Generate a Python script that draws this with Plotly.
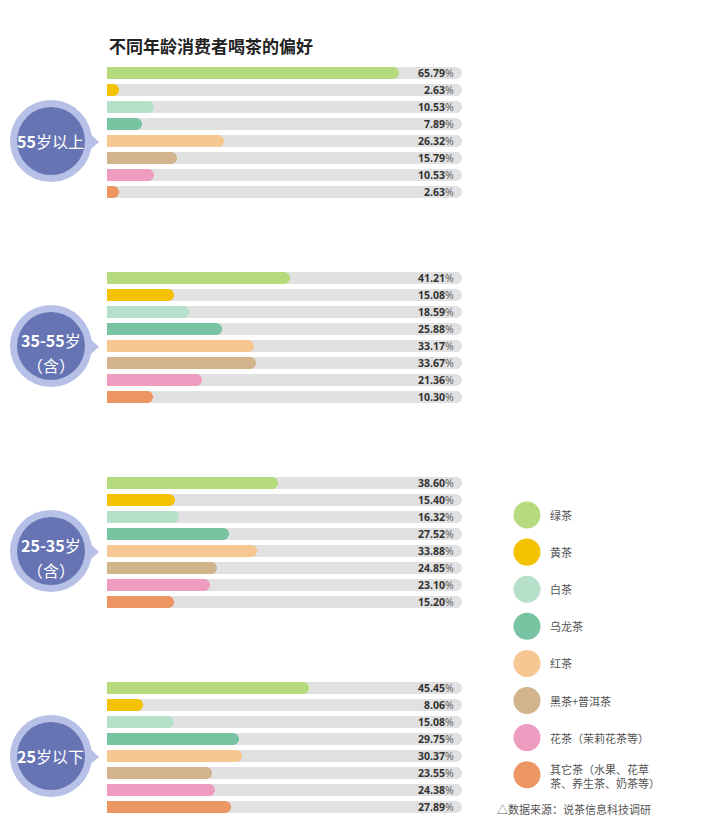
import plotly.graph_objects as go

# ---------------- data ----------------
tea_types = ["绿茶", "黄茶", "白茶", "乌龙茶", "红茶", "黑茶+普洱茶",
             "花茶（茉莉花茶等）", "其它茶（水果、花草<br>茶、养生茶、奶茶等）"]
age_groups = ["55岁以上", "35-55岁（含）", "25-35岁（含）", "25岁以下"]
age_label_lines = [["<b>55</b>岁以上"], ["<b>35-55</b>岁", "（含）"],
                   ["<b>25-35</b>岁", "（含）"], ["<b>25</b>岁以下"]]
values_55_plus = [65.79, 2.63, 10.53, 7.89, 26.32, 15.79, 10.53, 2.63]
values_35_55 = [41.21, 15.08, 18.59, 25.88, 33.17, 33.67, 21.36, 10.30]
values_25_35 = [38.60, 15.40, 16.32, 27.52, 33.88, 24.85, 23.10, 15.20]
values_under_25 = [45.45, 8.06, 15.08, 29.75, 30.37, 23.55, 24.38, 27.89]
group_values = [values_55_plus, values_35_55, values_25_35, values_under_25]

colors = ["#B6DB7F", "#F5C202", "#B6E0CA", "#78C3A2", "#F6C793",
          "#D1B38C", "#EE9CBF", "#EC9763"]
TRACK_MAX = 80
title = "不同年龄消费者喝茶的偏好"
source = "△数据来源：说茶信息科技调研"

# ---------------- layout helpers ----------------
W, H = 705, 827
FONT = "Noto Sans CJK SC"
ROW_PX = 17.0
GROUP_PX = 205.0
FIRST_ROW_PX = 73.0
BAR_W = 0.66
group_step = GROUP_PX / ROW_PX


def row_pos(g, i):
    return g * group_step + i


def px(x):
    return x / W


def py(y):
    return 1 - y / H


fig = go.Figure()

all_rows = [row_pos(g, i) for g in range(len(age_groups)) for i in range(len(tea_types))]

# background tracks (base subplot)
fig.add_trace(go.Bar(
    x=[TRACK_MAX] * len(all_rows), y=all_rows, orientation="h",
    width=BAR_W, offset=-BAR_W / 2, offsetgroup="one", xaxis="x", yaxis="y",
    marker=dict(color="#E1E1E1", cornerradius="50%", line=dict(width=0)),
    hoverinfo="skip", showlegend=False))

# tea bars, one trace per tea type (overlaying subplot, drawn above tracks)
for i, tea in enumerate(tea_types):
    fig.add_trace(go.Bar(
        x=[group_values[g][i] for g in range(len(age_groups))],
        y=[row_pos(g, i) for g in range(len(age_groups))],
        orientation="h", width=BAR_W, offset=-BAR_W / 2, name=tea, offsetgroup="one",
        xaxis="x3", yaxis="y3",
        marker=dict(color=colors[i], cornerradius="50%", line=dict(width=0)),
        showlegend=False))

annotations = []
# percent labels
for g in range(len(age_groups)):
    for i in range(len(tea_types)):
        annotations.append(dict(
            x=78.7, y=row_pos(g, i), xref="x", yref="y", xanchor="right", yanchor="middle",
            text=f"<b>{group_values[g][i]:.2f}</b><span style='color:#666'>%</span>",
            showarrow=False, font=dict(family="Noto Sans", size=10.5, color="#333333")))

# title
annotations.append(dict(x=px(107), y=py(45), xref="paper", yref="paper",
                        xanchor="left", yanchor="middle", text=f"<b>{title}</b>",
                        showarrow=False, font=dict(family=FONT, size=17, color="#222222")))

shapes = []
# age group badges
for g, lines in enumerate(age_label_lines):
    cx, cy = 51, 141 + GROUP_PX * g
    ro, ri = 41, 34
    shapes.append(dict(type="path", xref="paper", yref="paper",
                       path=f"M {px(84)} {py(cy-13)} L {px(99)} {py(cy+1)} L {px(84)} {py(cy+14)} Z",
                       fillcolor="#B7C0E6", line=dict(width=0), layer="above"))
    shapes.append(dict(type="circle", xref="paper", yref="paper",
                       x0=px(cx-ro), x1=px(cx+ro), y0=py(cy+ro), y1=py(cy-ro),
                       fillcolor="#B7C0E6", line=dict(width=0), layer="above"))
    shapes.append(dict(type="circle", xref="paper", yref="paper",
                       x0=px(cx-ri), x1=px(cx+ri), y0=py(cy+ri), y1=py(cy-ri),
                       fillcolor="#6674B3", line=dict(width=0), layer="above"))
    if len(lines) == 1:
        ys = [cy]
    else:
        ys = [cy - 6, cy + 19]
    for text, ty in zip(lines, ys):
        annotations.append(dict(x=px(cx), y=py(ty), xref="paper", yref="paper",
                                xanchor="center", yanchor="middle", text=text, showarrow=False,
                                font=dict(family=FONT, size=16, color="#FFFFFF")))

# legend (custom) on a second pair of axes
LEG_TOP_PX = 515.0
LEG_STEP_PX = 37.1
LEG_X_PX = 527.0
leg_idx = list(range(len(tea_types)))
fig.add_trace(go.Scatter(
    x=[0] * len(tea_types), y=leg_idx, xaxis="x2", yaxis="y2", mode="markers",
    marker=dict(size=27, color=colors, line=dict(width=0)),
    hoverinfo="text", text=tea_types, showlegend=False))
for k, tea in enumerate(tea_types):
    annotations.append(dict(x=21, y=k + (0.03 if "<br>" in tea else 0), xref="x2", yref="y2",
                            xanchor="left", yanchor="middle", text=tea, showarrow=False,
                            align="left",
                            font=dict(family=FONT, size=11, color="#555555")))
annotations.append(dict(x=px(495), y=py(809), xref="paper", yref="paper", xanchor="left",
                        yanchor="middle", text=source, showarrow=False,
                        font=dict(family=FONT, size=11, color="#555555")))

y_top = -FIRST_ROW_PX / ROW_PX
y_bot = (H - FIRST_ROW_PX) / ROW_PX

fig.update_layout(
    width=W, height=H, autosize=False,
    margin=dict(l=0, r=0, t=0, b=0, pad=0),
    paper_bgcolor="white", plot_bgcolor="rgba(0,0,0,0)",
    barmode="group", bargap=0, bargroupgap=0,
    xaxis=dict(domain=[px(107), px(462)], range=[0, TRACK_MAX], visible=False, fixedrange=True),
    yaxis=dict(domain=[0, 1], range=[y_bot, y_top], visible=False, fixedrange=True),
    xaxis3=dict(domain=[px(107), px(462)], range=[0, TRACK_MAX], visible=False, fixedrange=True,
                overlaying="x", anchor="y3"),
    yaxis3=dict(domain=[0, 1], range=[y_bot, y_top], visible=False, fixedrange=True,
                overlaying="y", anchor="x3"),
    xaxis2=dict(domain=[0, 1], range=[-LEG_X_PX, W - LEG_X_PX], visible=False,
                anchor="y2", fixedrange=True),
    yaxis2=dict(domain=[0, 1], range=[(H - LEG_TOP_PX) / LEG_STEP_PX, -LEG_TOP_PX / LEG_STEP_PX],
                visible=False, anchor="x2", fixedrange=True),
    annotations=annotations, shapes=shapes,
    font=dict(family=FONT),
)

fig.write_html("out.html")
